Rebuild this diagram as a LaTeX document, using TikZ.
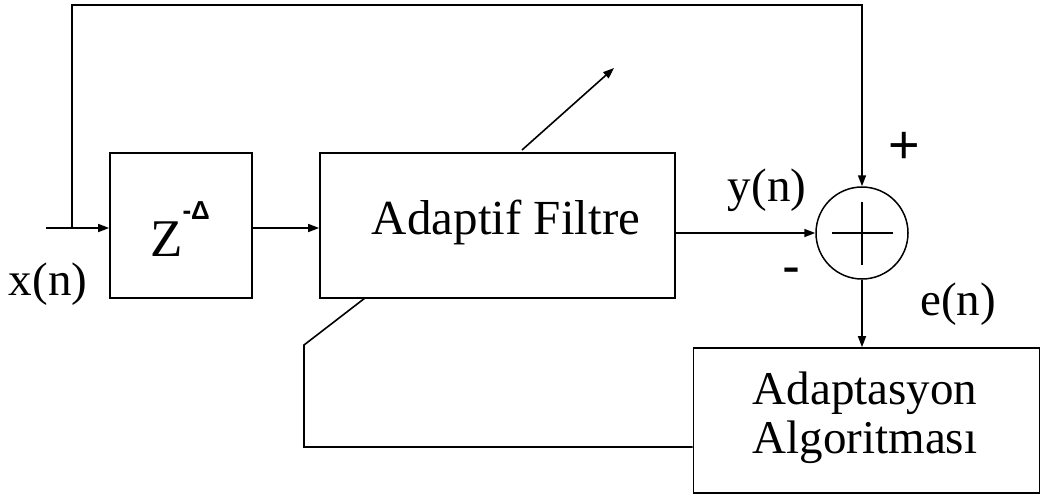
\documentclass[tikz,border=0pt]{standalone}
\usepackage{fontspec}
\setmainfont{Liberation Serif}
\setsansfont{Liberation Sans}
\usetikzlibrary{arrows.meta,calc}

\tikzset{
  blk/.style={draw, line width=1.7pt, rectangle, inner sep=0pt},
  wire/.style={line width=1.6pt},
  arr/.style={wire, -{Triangle[length=11pt,width=8pt]}},
  lbl/.style={inner sep=0pt, font=\fontsize{47}{50}\selectfont},
  sgn/.style={inner sep=0pt, font=\fontsize{54}{54}\selectfont\sffamily},
}

\begin{document}
\begin{tikzpicture}[x=1pt,y=-1pt]
\useasboundingbox (0,0) rectangle (1041,496);

% blocks
\node[blk, minimum width=142pt, minimum height=145pt] (zbox) at (181,225.5) {};
\node[anchor=base west, inner sep=0pt, font=\fontsize{53}{56}\selectfont] (ztxt) at (150,256)
  {Z\raisebox{37pt}{\fontsize{26}{26}\selectfont\sffamily\bfseries -Δ}};

\node[blk, minimum width=355pt, minimum height=145pt] (filt) at (497.5,225.5) {};
\node[lbl, font=\fontsize{49}{50}\selectfont] (filttxt) at (506,222) {Adaptif Filtre};

\node[circle, draw, line width=1.5pt, minimum size=92pt, inner sep=0pt] (sum) at (862,233) {};
\draw[line width=2pt] ($(sum.center)+(-30,0)$) -- ($(sum.center)+(31,0)$);
\draw[line width=2pt] ($(sum.center)+(0,-31)$) -- ($(sum.center)+(0,32)$);

\node[blk, minimum width=346pt, minimum height=145pt] (adapt) at (866.5,420.5) {};
\node[lbl, align=center, font=\fontsize{47}{49}\selectfont] (adapttxt) at (865,418)
  {Adaptasyon\\Algoritması};

% signal labels
\node[lbl] (xn) at (48,284) {x(n)};
\node[lbl] (yn) at (767,190) {y(n)};
\node[lbl] (en) at (958,304) {e(n)};
\node[sgn] (plus) at (904,148) {+};
\node[sgn] (minus) at (791,276) {-};

% connectors
\coordinate (xin) at (46,228);
\coordinate (tap) at (72,228);
\coordinate (topy) at (72,5);
\draw[arr] (xin) -- (xin -| zbox.west);
\draw[arr] (tap) -- (topy) -- (topy -| sum.north) -- (sum.north);
\draw[arr] (zbox.east |- 0,228) -- (filt.west |- 0,228);
\draw[arr] (filt.east |- sum.west) -- (sum.west);
\draw[arr] (sum.south) -- (sum.south |- adapt.north);

% adaptation feedback into the filter
\coordinate (fb1) at (304,447);
\coordinate (fb2) at (304,345);
\coordinate (fbend) at (365,298);
\draw[wire] (adapt.west |- fb1) -- (fb1) -- (fb2) -- (fbend);

% adjustable-filter arrow
\coordinate (tilt0) at (522,150);
\coordinate (tilt1) at (614,68);
\draw[arr] (tilt0) -- (tilt1);
\end{tikzpicture}
\end{document}
